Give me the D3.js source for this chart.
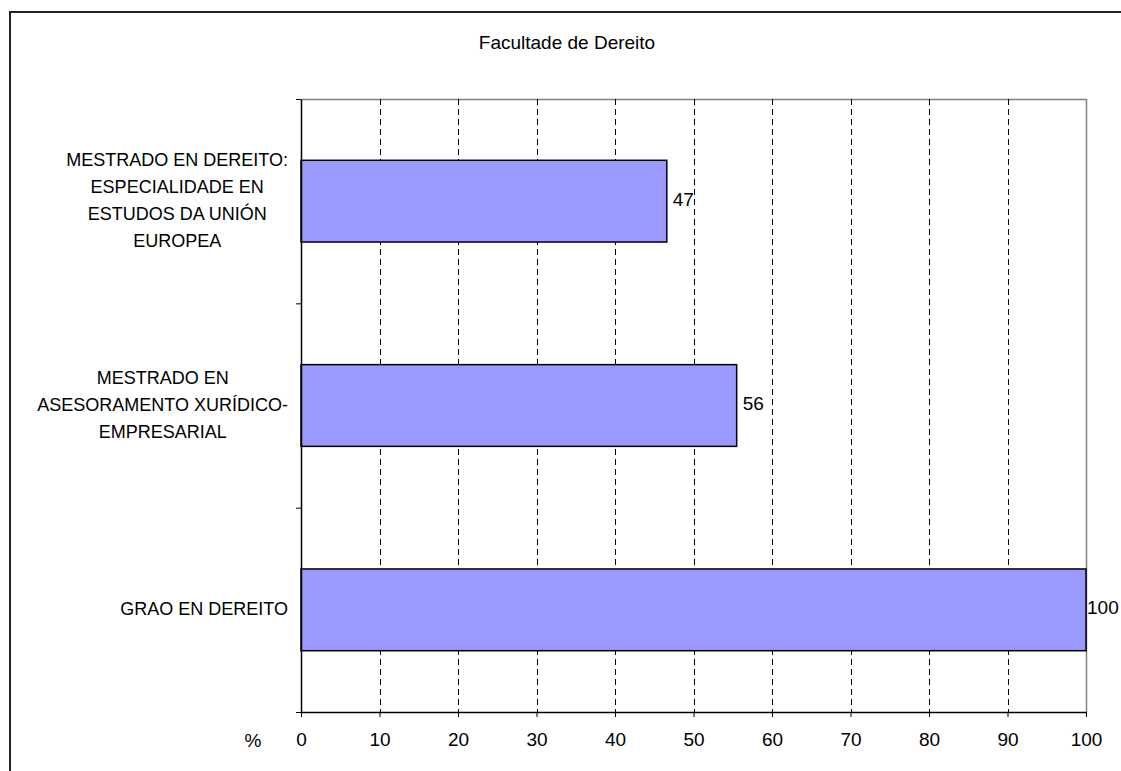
<!DOCTYPE html>
<html>
<head>
<meta charset="utf-8">
<script src="https://cdn.jsdelivr.net/npm/d3@7"></script>
<style>
  html, body { margin: 0; background: #fff; overflow: hidden; }
  svg { display: block; font-family: "Liberation Sans", Arial, sans-serif; }
</style>
</head>
<body>
<div id="chart"></div>
<script>
// Chart data
const title = "Facultade de Dereito";
const categories = [
    "MESTRADO EN DEREITO: ESPECIALIDADE EN ESTUDOS DA UNIÓN EUROPEA",
    "MESTRADO EN ASESORAMENTO XURÍDICO-EMPRESARIAL",
    "GRAO EN DEREITO"
];
const categoryLines = [
    ["MESTRADO EN DEREITO:", "ESPECIALIDADE EN", "ESTUDOS DA UNIÓN", "EUROPEA"],
    ["MESTRADO EN", "ASESORAMENTO XURÍDICO-", "EMPRESARIAL"],
    ["GRAO EN DEREITO"]
];
const values = [46.6, 55.5, 100];
const valueLabels = ["47", "56", "100"];
const xTicks = [0, 10, 20, 30, 40, 50, 60, 70, 80, 90, 100];
const xUnit = "%";

// Dimensions
const W = 1121, H = 771;
const plot = { left: 301, right: 1086, top: 99, bottom: 712 };

const svg = d3.select("#chart")
    .append("svg")
    .attr("width", W)
    .attr("height", H);

// Outer frame (only left and top are inside the picture)
svg.append("path")
    .attr("d", `M10,${H}V12H${W}`)
    .attr("fill", "none")
    .attr("stroke", "#222")
    .attr("stroke-width", 2);

// Scales
const x = d3.scaleLinear()
    .domain([0, 100])
    .range([plot.left, plot.right]);

const y = d3.scaleBand()
    .domain(categories)
    .range([plot.top, plot.bottom])
    .paddingInner(0.6)
    .paddingOuter(0.3);

const yEdges = d3.scaleLinear()
    .domain([0, categories.length])
    .range([plot.top, plot.bottom]);

// Plot border (top and right, grey)
svg.append("path")
    .attr("d", `M${plot.left},${plot.top + 0.5}H${plot.right + 0.5}V${plot.bottom}`)
    .attr("fill", "none")
    .attr("stroke", "#808080")
    .attr("stroke-width", 1.5);

// Dashed gridlines
svg.append("g")
    .selectAll("line")
    .data(xTicks.filter(d => d > 0 && d < 100))
    .enter()
    .append("line")
    .attr("x1", d => Math.round(x(d)) + 0.5)
    .attr("x2", d => Math.round(x(d)) + 0.5)
    .attr("y1", plot.top)
    .attr("y2", plot.bottom)
    .attr("stroke", "#000")
    .attr("stroke-width", 1)
    .attr("stroke-dasharray", "6,4");

// Bars
svg.append("g")
    .selectAll("rect")
    .data(values)
    .enter()
    .append("rect")
    .attr("x", x(0))
    .attr("y", (d, i) => y(categories[i]))
    .attr("width", d => x(d) - x(0))
    .attr("height", y.bandwidth())
    .attr("fill", "#9999FF")
    .attr("stroke", "#000")
    .attr("stroke-width", 1.5);

// Value labels (kept inside the picture, like the 100 label)
svg.append("g")
    .selectAll("text")
    .data(values)
    .enter()
    .append("text")
    .attr("x", d => Math.min(x(d) + 6, 1087))
    .attr("y", (d, i) => y(categories[i]) + y.bandwidth() / 2 + 4.5)
    .attr("font-size", "19px")
    .attr("fill", "#000")
    .text((d, i) => valueLabels[i]);

// X axis
const xAxis = svg.append("g")
    .attr("transform", `translate(0,${plot.bottom})`)
    .call(d3.axisBottom(x).tickValues(xTicks).tickSize(5).tickPadding(16).tickSizeOuter(0));
xAxis.select(".domain").attr("stroke", "#000").attr("stroke-width", 1.5);
xAxis.selectAll(".tick line").attr("stroke", "#000");
xAxis.selectAll(".tick text")
    .attr("font-size", "19px")
    .attr("font-family", "Liberation Sans, Arial, sans-serif")
    .attr("fill", "#000");

svg.append("text")
    .attr("x", 253)
    .attr("y", 747)
    .attr("text-anchor", "middle")
    .attr("font-size", "19px")
    .text(xUnit);

// Y axis (ticks at category boundaries)
const yAxis = svg.append("g")
    .attr("transform", `translate(${plot.left},0)`)
    .call(d3.axisLeft(yEdges).tickValues(d3.range(categories.length + 1)).tickFormat("").tickSize(5).tickSizeOuter(0));
yAxis.select(".domain").attr("stroke", "#000").attr("stroke-width", 1.5);
yAxis.selectAll(".tick line").attr("stroke", "#000");

// Category labels: each block centred, block right edge near the axis
const labelRight = 288;
const lineH = 27;
categoryLines.forEach((lines, i) => {
    const g = svg.append("g");
    const texts = g.selectAll("text")
        .data(lines)
        .enter()
        .append("text")
        .attr("font-size", "18px")
        .attr("fill", "#000")
        .attr("text-anchor", "middle")
        .text(d => d);
    const maxW = d3.max(texts.nodes(), n => n.getComputedTextLength());
    const cy = y(categories[i]) + y.bandwidth() / 2;
    const first = cy - (lines.length - 1) * lineH / 2 + 5;
    texts.attr("x", labelRight - maxW / 2)
        .attr("y", (d, j) => first + j * lineH);
});

// Title
svg.append("text")
    .attr("x", 567)
    .attr("y", 49)
    .attr("text-anchor", "middle")
    .attr("font-size", "19px")
    .text(title);
</script>
</body>
</html>
